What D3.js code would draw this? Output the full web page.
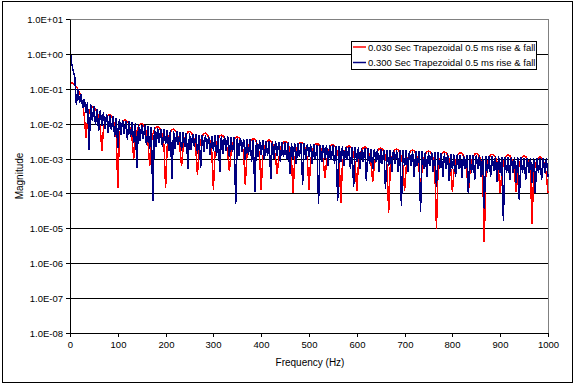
<!DOCTYPE html>
<html>
<head>
<meta charset="utf-8">
<script src="https://cdn.jsdelivr.net/npm/d3@7"></script>
<style>
body { margin: 0; background: #fff; }
text { font-family: "Liberation Sans", Arial, sans-serif; fill: #000; }
</style>
</head>
<body>
<script>
//frequency spacing of the spectrum points (Hz), 301 points from 0 to 1000 Hz
var freqStep = 1000 / 300;

//legend names
var seriesNames = ["0.030 Sec Trapezoidal 0.5 ms rise & fall",
                   "0.300 Sec Trapezoidal 0.5 ms rise & fall"];

//magnitude of the 0.030 s pulse
var mag030 = [
  0.15, 0.148, 0.14, 0.129, 0.114, 0.0955, 0.0757, 0.0552, 0.0351, 0.0164,
  0.0039, 0.0126, 0.0221, 0.028, 0.0305, 0.03, 0.0267, 0.0214, 0.0147, 0.0073,
  0.0017, 0.0066, 0.012, 0.0158, 0.0178, 0.018, 0.0165, 0.0135, 0.0095, 0.0048,
  0.00014, 0.00449, 0.00827, 0.01103, 0.01259, 0.01286, 0.01156, 0.00984, 0.00696, 0.00357,
  0.001, 0.00339, 0.0063, 0.00847, 0.00973, 0.01, 0.0093, 0.00774, 0.00552, 0.00284,
  0.0006, 0.00273, 0.00509, 0.00687, 0.00792, 0.00818, 0.00764, 0.00638, 0.00456, 0.00236,
  0.00014, 0.00228, 0.00427, 0.00578, 0.00669, 0.00692, 0.00649, 0.00544, 0.00389, 0.00201,
  0.0006, 0.00196, 0.00368, 0.00499, 0.00578, 0.006, 0.00563, 0.00472, 0.00339, 0.00176,
  0.00035, 0.00172, 0.00323, 0.00438, 0.0051, 0.0053, 0.00497, 0.00418, 0.003, 0.00156,
  0.00013, 0.00145, 0.00276, 0.0038, 0.00447, 0.0047, 0.00447, 0.0038, 0.00276, 0.00145,
  0.00044, 0.0013, 0.00247, 0.0034, 0.004, 0.0042, 0.004, 0.0034, 0.00247, 0.0013,
  0.00018, 0.00114, 0.00218, 0.003, 0.00352, 0.0037, 0.00352, 0.003, 0.00218, 0.00114,
  0.00013, 0.00105, 0.002, 0.00275, 0.00323, 0.0034, 0.00323, 0.00275, 0.002, 0.00105,
  0.00036, 0.00096, 0.00182, 0.00251, 0.00295, 0.0031, 0.00295, 0.00251, 0.00182, 0.00096,
  0.0001, 0.0009, 0.0017, 0.00235, 0.00276, 0.0029, 0.00276, 0.00235, 0.0017, 0.0009,
  0.00013, 0.00083, 0.00159, 0.00218, 0.00257, 0.0027, 0.00257, 0.00218, 0.00159, 0.00083,
  0.00027, 0.00077, 0.00147, 0.00202, 0.00238, 0.0025, 0.00238, 0.00202, 0.00147, 0.00077,
  0.000055, 0.00071, 0.00135, 0.00186, 0.00219, 0.0023, 0.00219, 0.00186, 0.00135, 0.00071,
  0.00012, 0.00066, 0.00126, 0.00174, 0.00204, 0.00215, 0.00204, 0.00174, 0.00126, 0.00066,
  0.00022, 0.00062, 0.00118, 0.00162, 0.0019, 0.002, 0.0019, 0.00162, 0.00118, 0.00062,
  0.000028, 0.00058, 0.00111, 0.00152, 0.00179, 0.00188, 0.00179, 0.00152, 0.00111, 0.00058,
  0.00012, 0.00054, 0.00103, 0.00142, 0.00167, 0.00176, 0.00167, 0.00142, 0.00103, 0.00054,
  0.00015, 0.00051, 0.00097, 0.00133, 0.00157, 0.00165, 0.00157, 0.00133, 0.00097, 0.00051,
  0.0000096, 0.00048, 0.00092, 0.00126, 0.00148, 0.00156, 0.00148, 0.00126, 0.00092, 0.00048,
  0.00011, 0.00045, 0.00086, 0.00119, 0.0014, 0.00147, 0.0014, 0.00119, 0.00086, 0.00045,
  0.0001, 0.00043, 0.00082, 0.00113, 0.00133, 0.0014, 0.00133, 0.00113, 0.00082, 0.00043,
  0.000004, 0.00041, 0.00078, 0.00108, 0.00126, 0.00133, 0.00126, 0.00108, 0.00078, 0.00041,
  0.0001, 0.00039, 0.00075, 0.00103, 0.00121, 0.00127, 0.00121, 0.00103, 0.00075, 0.00039,
  0.00011, 0.00037, 0.00071, 0.00097, 0.00114, 0.0012, 0.00114, 0.00097, 0.00071, 0.00037,
  0.000013, 0.00035, 0.00066, 0.00091, 0.00107, 0.00113, 0.00107, 0.00091, 0.00066, 0.00035,
  0.0001
];

//magnitude of the 0.300 s pulse
var mag300 = [
  1.5, 0.55, 0.33, 0.21, 0.035, 0.1, 0.04, 0.07, 0.028, 0.052,
  0.02, 0.042, 0.0018, 0.036, 0.012, 0.031, 0.0095, 0.027, 0.006, 0.024,
  0.0085, 0.021, 0.007, 0.019, 0.0055, 0.0175, 0.0065, 0.016, 0.0042, 0.0148,
  0.002, 0.0138, 0.0048, 0.013, 0.0052, 0.0122, 0.0035, 0.0115, 0.0041, 0.0108,
  0.0028, 0.0103, 0.00054, 0.0098, 0.0031, 0.0093, 0.0036, 0.0089, 0.0024, 0.0085,
  0.0019, 0.0082, 0.00006, 0.0078, 0.0021, 0.0075, 0.0029, 0.0072, 0.0022, 0.0069,
  0.0026, 0.0066, 0.0017, 0.0064, 0.00026, 0.0062, 0.0019, 0.006, 0.0024, 0.0058,
  0.0017, 0.0056, 0.0021, 0.0054, 0.0005, 0.0053, 0.0018, 0.0051, 0.0022, 0.005,
  0.0014, 0.0048, 0.00052, 0.0047, 0.0016, 0.0046, 0.0019, 0.0044, 0.0013, 0.0043,
  0.0017, 0.0047, 0.0012, 0.0046, 0.0004, 0.0045, 0.0014, 0.0044, 0.0017, 0.0043,
  0.0011, 0.0042, 0.0015, 0.0041, 0.00005, 0.004, 0.0012, 0.0039, 0.0015, 0.0037,
  0.0009, 0.0036, 0.0013, 0.0036, 0.0008, 0.0035, 0.00011, 0.0034, 0.0011, 0.0033,
  0.0013, 0.0033, 0.0009, 0.0032, 0.0012, 0.0032, 0.00026, 0.0031, 0.001, 0.0031,
  0.0012, 0.003, 0.0008, 0.003, 0.0011, 0.0029, 0.0009, 0.0029, 0.00036, 0.0028,
  0.001, 0.0028, 0.0007, 0.0027, 0.0011, 0.0027, 0.00018, 0.0027, 0.0009, 0.0026,
  0.0011, 0.0026, 0.0007, 0.0026, 0.0009, 0.0025, 0.000049, 0.0025, 0.0008, 0.0025,
  0.001, 0.0024, 0.0006, 0.0024, 0.0009, 0.0024, 0.0007, 0.0023, 0.000059, 0.0023,
  0.0008, 0.0023, 0.0006, 0.0022, 0.0009, 0.0022, 0.0005, 0.0022, 0.00015, 0.0021,
  0.0008, 0.0021, 0.0005, 0.002, 0.0008, 0.002, 0.00023, 0.002, 0.0007, 0.0019,
  0.0005, 0.0019, 0.0008, 0.0019, 0.0004, 0.0019, 0.0007, 0.0018, 0.00013, 0.0018,
  0.0006, 0.0018, 0.0004, 0.0018, 0.0007, 0.0017, 0.0004, 0.0017, 0.000045, 0.0017,
  0.0006, 0.0017, 0.0004, 0.0016, 0.0006, 0.0016, 0.0003, 0.0016, 0.0006, 0.0016,
  0.00003, 0.0016, 0.0005, 0.0015, 0.0003, 0.0015, 0.0006, 0.0015, 0.0004, 0.0015,
  0.00015, 0.0015, 0.0005, 0.0014, 0.0003, 0.0014, 0.0005, 0.0014, 0.00023, 0.00135,
  0.0005, 0.0013, 0.0003, 0.0013, 0.0005, 0.0013, 0.00028, 0.00128, 0.0005, 0.00128,
  0.0001, 0.00126, 0.0004, 0.00125, 0.00025, 0.00124, 0.0005, 0.00122, 0.0003, 0.0012,
  0.000037, 0.0012, 0.0004, 0.00118, 0.0003, 0.00118, 0.00045, 0.00116, 0.00022, 0.00115,
  0.0004, 0.00114, 0.000016, 0.00112, 0.0004, 0.00112, 0.00025, 0.0011, 0.0004, 0.0011,
  0.0002, 0.00108, 0.000064, 0.00107, 0.0004, 0.00106, 0.00025, 0.00105, 0.0004, 0.00104,
  0.0002, 0.00103, 0.0001, 0.00102, 0.0004, 0.00101, 0.00025, 0.001, 0.0004, 0.001,
  0.0003
];

//axis ticks
var yTicks = [10, 1, 1e-1, 1e-2, 1e-3, 1e-4, 1e-5, 1e-6, 1e-7, 1e-8];
var xTicks = [0, 100, 200, 300, 400, 500, 600, 700, 800, 900, 1000];

//svg frame
var width = 576,
    height = 386;

var svg = d3.select("body")
    .append("svg")
    .attr("width", width)
    .attr("height", height);

//outer chart border
svg.append("rect")
    .attr("x", 2.5)
    .attr("y", 1.5)
    .attr("width", 570)
    .attr("height", 381)
    .attr("fill", "#fff")
    .attr("stroke", "#000");

//scales, plot area 70..548 x 19..333
var x = d3.scaleLinear()
    .domain([0, 1000])
    .range([70, 548])
    .interpolate(d3.interpolateRound);

var y = d3.scaleLog()
    .domain([1e-8, 10])
    .range([333, 19])
    .interpolate(d3.interpolateRound);

//unrounded copies for the data lines
var xData = x.copy().interpolate(d3.interpolateNumber),
    yData = y.copy().interpolate(d3.interpolateNumber);

//plot area border (grey)
svg.append("rect")
    .attr("x", 70.5)
    .attr("y", 19.5)
    .attr("width", 478)
    .attr("height", 314)
    .attr("fill", "#fff")
    .attr("stroke", "#808080");

//horizontal gridlines
svg.append("g")
    .selectAll("line")
    .data(yTicks.slice(1, -1))
    .enter()
    .append("line")
    .attr("x1", 70)
    .attr("x2", 548)
    .attr("y1", function(d){ return y(d) + 0.5; })
    .attr("y2", function(d){ return y(d) + 0.5; })
    .attr("stroke", "#000");

//clip for the series
svg.append("clipPath")
    .attr("id", "plotClip")
    .append("rect")
    .attr("x", 70)
    .attr("y", 19)
    .attr("width", 479)
    .attr("height", 315);

var line = d3.line()
    .x(function(d, i){ return xData(i * freqStep); })
    .y(function(d){ return yData(d); });

var series = [
    {name: seriesNames[0], values: mag030, color: "#ff0000"},
    {name: seriesNames[1], values: mag300, color: "#000080"}
];

//aliased lines like the original chart
svg.append("g")
    .attr("clip-path", "url(#plotClip)")
    .selectAll("path")
    .data(series)
    .enter()
    .append("path")
    .attr("d", function(d){ return line(d.values); })
    .attr("fill", "none")
    .attr("stroke", function(d){ return d.color; })
    .attr("stroke-width", 1.5)
    .attr("shape-rendering", "crispEdges");

//y label format like 1.0E-03
function sciLabel(d){
    var e = Math.round(Math.log10(d));
    return "1.0E" + (e < 0 ? "-" : "+") + (Math.abs(e) < 10 ? "0" : "") + Math.abs(e);
}

//y axis
var yAxis = svg.append("g")
    .attr("transform", "translate(70,0)")
    .call(d3.axisLeft(y)
        .tickValues(yTicks)
        .tickFormat(sciLabel)
        .tickSizeInner(4)
        .tickSizeOuter(0)
        .tickPadding(3));

//x axis
var xAxis = svg.append("g")
    .attr("transform", "translate(0,333)")
    .call(d3.axisBottom(x)
        .tickValues(xTicks)
        .tickFormat(d3.format("d"))
        .tickSizeInner(4)
        .tickSizeOuter(0)
        .tickPadding(4));

svg.selectAll(".tick text")
    .attr("font-family", "Liberation Sans, Arial, sans-serif")
    .attr("font-size", "9.5px");

//axis titles
svg.append("text")
    .attr("x", 310)
    .attr("y", 366)
    .attr("text-anchor", "middle")
    .attr("font-size", "10px")
    .text("Frequency (Hz)");

svg.append("text")
    .attr("transform", "translate(23,176) rotate(-90)")
    .attr("text-anchor", "middle")
    .attr("font-size", "10px")
    .text("Magnitude");

//legend
var legend = svg.append("g")
    .attr("transform", "translate(351,41)");

legend.append("rect")
    .attr("x", 0.5)
    .attr("y", 0.5)
    .attr("width", 185)
    .attr("height", 28)
    .attr("fill", "#fff")
    .attr("stroke", "#000");

var items = legend.selectAll(".item")
    .data(series)
    .enter()
    .append("g")
    .attr("class", "item")
    .attr("transform", function(d, i){ return "translate(0," + (6 + i * 15.5) + ")"; });

items.append("line")
    .attr("x1", 2)
    .attr("x2", 15)
    .attr("y1", 0)
    .attr("y2", 0)
    .attr("stroke", function(d){ return d.color; })
    .attr("stroke-width", 1.5);

items.append("text")
    .attr("x", 17)
    .attr("y", 3.5)
    .attr("font-size", "9.5px")
    .text(function(d){ return d.name; });
</script>
</body>
</html>
